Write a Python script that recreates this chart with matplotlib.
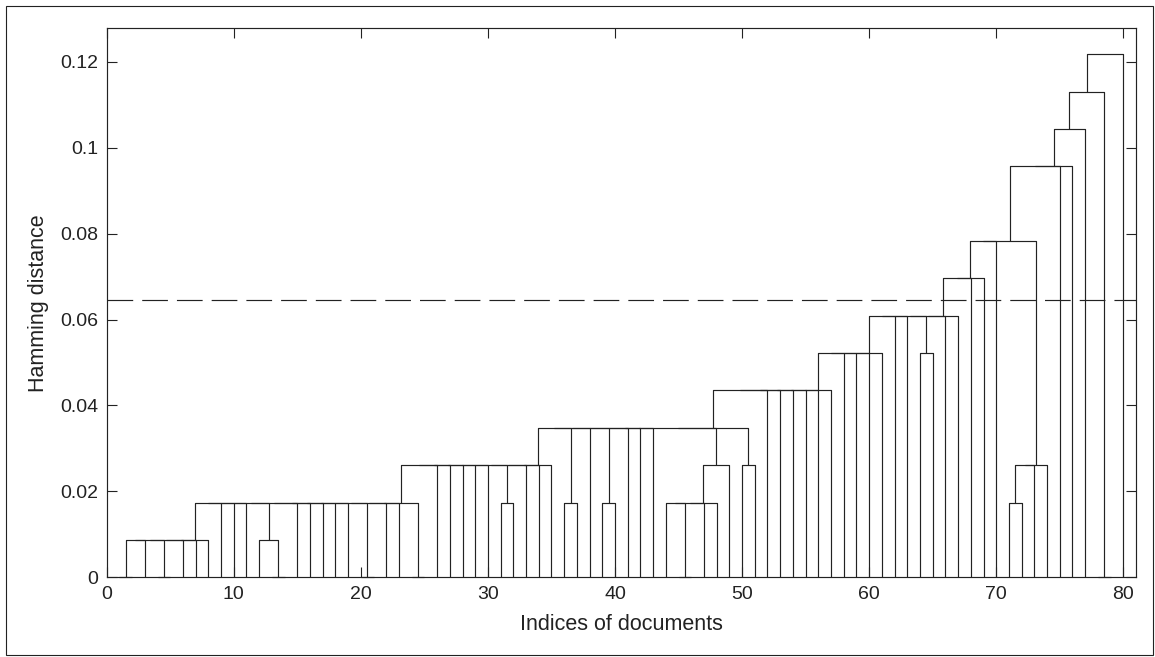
import matplotlib
matplotlib.use("Agg")
import matplotlib.pyplot as plt
from matplotlib.patches import Rectangle

plt.rcParams["font.family"] = ["Liberation Sans", "DejaVu Sans"]
plt.rcParams["lines.scale_dashes"] = False

# documents are numbered by their position along the x axis (1..80)
n_docs = 80

# merges in order: (name, hamming distance, members joined one after another)
merge_names = ["c1", "c2", "c3", "c4", "c5", "c6", "c7",
               "c8", "c9",
               "c10", "c11", "c12", "c13", "c14", "c15",
               "c16", "c17", "c18", "c19",
               "c20", "c21", "c22", "c23", "c24", "c25",
               "c26", "c27", "c28", "c29", "c30"]
merge_heights = [0.0, 0.0, 0.0, 0.0, 0.0, 0.0, 0.0,
                 0.0087, 0.0087,
                 0.0174, 0.0174, 0.0174, 0.0174, 0.0174, 0.0174,
                 0.0261, 0.0261, 0.0261, 0.0261,
                 0.0348, 0.0435, 0.0522, 0.0522, 0.0609, 0.0696,
                 0.0783, 0.0957, 0.1043, 0.1130, 0.1217]
merge_members = [
    [1, 2], [4, 5], [13, 14], [20, 21], [24, 25], [45, 46], [78, 79],
    ["c1", 3, "c2", 6, 7, 8],
    [12, "c3"],
    ["c8", 9, 10, 11, "c9", 15, 16, 17, 18, 19, "c4", 22, 23, "c5"],
    [31, 32],
    [36, 37],
    [39, 40],
    [44, "c6", 47, 48],
    [71, 72],
    ["c10", 26, 27, 28, 29, 30, "c11", 33, 34, 35],
    ["c14", 49],
    [50, 51],
    ["c15", 73, 74],
    ["c16", "c12", 38, "c13", 41, 42, 43, "c17", "c18"],
    ["c20", 52, 53, 54, 55, 56, 57],
    ["c21", 58, 59, 60, 61],
    [64, 65],
    ["c22", 62, 63, "c23", 66, 67],
    ["c24", 68, 69],
    ["c25", 70, "c19"],
    ["c26", 75, 76],
    ["c27", 77],
    ["c28", "c7"],
    ["c29", 80],
]
cut_height = 0.0645

xticks = [0, 10, 20, 30, 40, 50, 60, 70, 80]
yticks = [0, 0.02, 0.04, 0.06, 0.08, 0.1, 0.12]
ytick_labels = ["0", "0.02", "0.04", "0.06", "0.08", "0.1", "0.12"]

W, H = 1155, 657
fig = plt.figure(figsize=(W / 100, H / 100), dpi=100)
fig.add_artist(Rectangle((6 / W, 2 / H), 1147 / W, 649 / H, transform=fig.transFigure,
                         fill=False, lw=0.8, ec="#222222"))
ax = fig.add_axes([106.7 / W, 1 - 577.3 / H, (1136 - 106.7) / W, (577.3 - 28.3) / H])

line_col = "#222222"
pos = {}


def get(m):
    if isinstance(m, str):
        return pos[m]
    return (float(m), 0.0)


for name, h, members in zip(merge_names, merge_heights, merge_members):
    cx, ch = get(members[0])
    for m in members[1:]:
        mx, mh = get(m)
        ax.plot([cx, cx, mx, mx], [ch, h, h, mh], color=line_col, lw=0.85,
                solid_capstyle="butt", clip_on=False)
        cx, ch = (cx + mx) / 2, h
    pos[name] = (cx, ch)

ax.plot([0, n_docs + 1], [cut_height, cut_height], color=line_col, lw=0.85,
        linestyle=(0, (18.5, 6.5)))

ax.set_xlim(0, n_docs + 1)
ax.set_ylim(0, 1.05 * max(merge_heights))
ax.set_xticks(xticks)
ax.set_yticks(yticks)
ax.set_yticklabels(ytick_labels)
ax.tick_params(direction="in", length=7.5, width=0.8, top=True, right=True,
               labelsize=14, colors=line_col, pad=6)
for s in ax.spines.values():
    s.set_linewidth(0.85)
    s.set_color(line_col)

ax.set_xlabel("Indices of documents", fontsize=15.5, color=line_col)
ax.set_ylabel("Hamming distance", fontsize=15.5, color=line_col)
ax.xaxis.set_label_coords(0.5, -0.066)
ax.yaxis.set_label_coords(-0.056, 0.5)

fig.savefig("out.png", dpi=100)
